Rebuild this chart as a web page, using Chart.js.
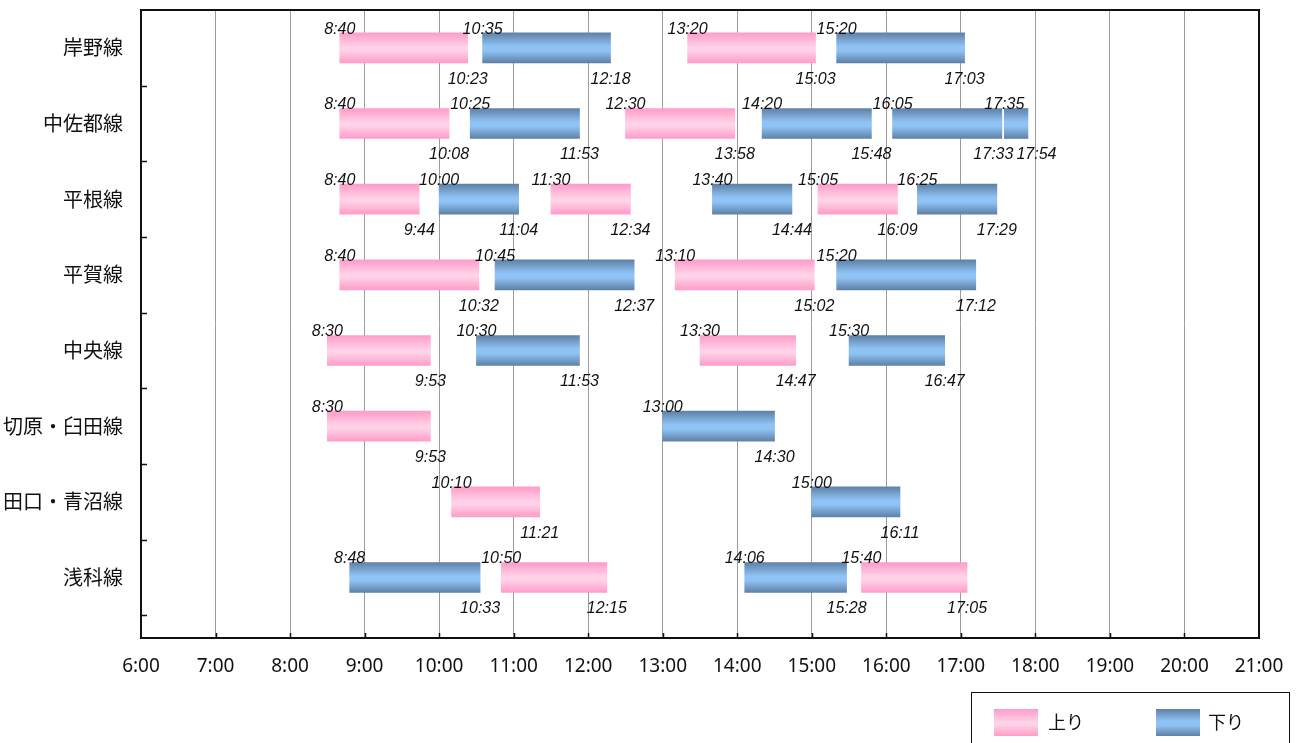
<!DOCTYPE html>
<html>
<head>
<meta charset="utf-8">
<script src="https://cdn.jsdelivr.net/npm/chart.js@4.4.1/dist/chart.umd.min.js"></script>
<style>
  html, body { margin: 0; padding: 0; background: #fff; }
  canvas { display: block; }
</style>
</head>
<body>
<canvas id="c" width="1296" height="743"></canvas>
<script>
// Routes (top to bottom)
const lines = ['岸野線', '中佐都線', '平根線', '平賀線', '中央線', '切原・臼田線', '田口・青沼線', '浅科線'];

// 上り runs per route: [departure, arrival]
const upRuns = [
  [['8:40', '10:23'], ['13:20', '15:03']],
  [['8:40', '10:08'], ['12:30', '13:58']],
  [['8:40', '9:44'], ['11:30', '12:34'], ['15:05', '16:09']],
  [['8:40', '10:32'], ['13:10', '15:02']],
  [['8:30', '9:53'], ['13:30', '14:47']],
  [['8:30', '9:53']],
  [['10:10', '11:21']],
  [['10:50', '12:15'], ['15:40', '17:05']]
];

// 下り runs per route: [departure, arrival]
const downRuns = [
  [['10:35', '12:18'], ['15:20', '17:03']],
  [['10:25', '11:53'], ['14:20', '15:48'], ['16:05', '17:33'], ['17:35', '17:54']],
  [['10:00', '11:04'], ['13:40', '14:44'], ['16:25', '17:29']],
  [['10:45', '12:37'], ['15:20', '17:12']],
  [['10:30', '11:53'], ['15:30', '16:47']],
  [['13:00', '14:30']],
  [['15:00', '16:11']],
  [['8:48', '10:33'], ['14:06', '15:28']]
];

// Hour ticks on the time axis
const hourTicks = [6, 7, 8, 9, 10, 11, 12, 13, 14, 15, 16, 17, 18, 19, 20, 21];

const legendNames = { up: '上り', down: '下り' };

function toHours(t) {
  const [h, m] = t.split(':').map(Number);
  return h + m / 60;
}

function makeGradient(g, y0, y1, dir) {
  const gr = g.createLinearGradient(0, y0, 0, y1);
  if (dir === 'up') {
    gr.addColorStop(0, '#ff9cc9');
    gr.addColorStop(0.5, '#ffd4e9');
    gr.addColorStop(0.6, '#ffd0e6');
    gr.addColorStop(1, '#ff9cc9');
  } else {
    gr.addColorStop(0, '#5f81a6');
    gr.addColorStop(0.45, '#8fc3f6');
    gr.addColorStop(0.6, '#8fc3f6');
    gr.addColorStop(1, '#5f81a6');
  }
  return gr;
}

function barFill(ctx, dir) {
  const chart = ctx.chart;
  const ys = chart.scales && chart.scales.y;
  if (ctx.type !== 'data' || !chart.chartArea || !ys || !ctx.raw) {
    return dir === 'up' ? '#ffb8dc' : '#78a4d2';
  }
  const yc = ys.getPixelForValue(ctx.raw.y);
  return makeGradient(chart.ctx, yc - 15, yc + 15, dir);
}

function buildSets(runs, dir) {
  const n = Math.max(...runs.map(r => r.length));
  const sets = [];
  for (let k = 0; k < n; k++) {
    const data = [];
    runs.forEach((r, i) => {
      if (r[k]) data.push({ x: [toHours(r[k][0]), toHours(r[k][1])], y: i, from: r[k][0], to: r[k][1] });
    });
    sets.push({
      label: legendNames[dir],
      dir: dir,
      data: data,
      grouped: false,
      barThickness: 30,
      borderWidth: 0,
      borderSkipped: false,
      backgroundColor: ctx => barFill(ctx, dir)
    });
  }
  return sets;
}

const datasets = buildSets(upRuns, 'up').concat(buildSets(downRuns, 'down'));

function noPad(s) {
  s.paddingTop = 0;
  s.paddingBottom = 0;
  s.paddingLeft = 0;
  s.paddingRight = 0;
}

// spread labels on one row apart so they do not overlap
function spread(items, g) {
  items.sort((p, q) => p.x - q.x);
  for (let k = 1; k < items.length; k++) {
    const p = items[k - 1], q = items[k];
    const need = (g.measureText(p.text).width + g.measureText(q.text).width) / 2 + 3;
    const gap = q.x - p.x;
    if (gap < need) {
      const shift = (need - gap) / 2;
      p.x -= shift;
      q.x += shift;
    }
  }
}

const decor = {
  id: 'decor',
  afterDatasetsDraw(chart) {
    const g = chart.ctx;
    g.save();
    g.font = 'italic 16px "Liberation Sans", Arial, sans-serif';
    g.fillStyle = '#111';
    g.textAlign = 'center';
    g.textBaseline = 'alphabetic';
    const starts = {}, ends = {};
    chart.data.datasets.forEach((ds, di) => {
      const meta = chart.getDatasetMeta(di);
      meta.data.forEach((el, j) => {
        const d = ds.data[j];
        if (!d) return;
        const a = Math.min(el.x, el.base);
        const b = Math.max(el.x, el.base);
        (starts[d.y] = starts[d.y] || []).push({ text: d.from, x: a, y: el.y - 15 + 1 });
        (ends[d.y] = ends[d.y] || []).push({ text: d.to, x: b, y: el.y + 15 + 21 });
      });
    });
    [starts, ends].forEach(group => {
      Object.values(group).forEach(row => {
        spread(row, g);
        row.forEach(it => g.fillText(it.text, it.x, it.y));
      });
    });
    g.restore();
  },
  afterDraw(chart) {
    const g = chart.ctx;
    const ca = chart.chartArea;
    const xs = chart.scales.x;
    const ys = chart.scales.y;
    g.save();
    // top and right frame
    g.strokeStyle = '#111';
    g.lineWidth = 2;
    g.beginPath();
    g.moveTo(ca.left - 1, ca.top);
    g.lineTo(ca.right, ca.top);
    g.lineTo(ca.right, ca.bottom + 1);
    g.stroke();
    // inward tick marks
    g.lineWidth = 1.5;
    g.beginPath();
    hourTicks.slice(1, -1).forEach(h => {
      const px = Math.round(xs.getPixelForValue(h)) + 0.5;
      g.moveTo(px, ca.bottom);
      g.lineTo(px, ca.bottom - 5);
    });
    lines.forEach((_, i) => {
      const py = Math.round(ys.getPixelForValue(i + 0.5)) + 0.5;
      g.moveTo(ca.left, py);
      g.lineTo(ca.left + 6, py);
    });
    g.stroke();

    // legend
    g.lineWidth = 1;
    g.strokeStyle = '#111';
    g.strokeRect(971.5, 692.5, 318, 70);
    const items = [['up', 994, 1048], ['down', 1156, 1208]];
    g.font = '18px "Noto Sans CJK JP", sans-serif';
    g.textAlign = 'left';
    g.textBaseline = 'middle';
    items.forEach(([dir, sx, tx]) => {
      g.fillStyle = makeGradient(g, 709, 736, dir);
      g.fillRect(sx, 709, 44, 27);
      g.fillStyle = '#111';
      g.fillText(legendNames[dir], tx, 722);
    });
    g.restore();
  }
};

new Chart(document.getElementById('c'), {
  type: 'bar',
  data: { datasets: datasets },
  options: {
    indexAxis: 'y',
    responsive: false,
    animation: false,
    devicePixelRatio: 1,
    layout: { padding: { top: 10, right: 37, left: 0, bottom: 0 } },
    plugins: {
      legend: { display: false },
      title: { display: false },
      tooltip: { enabled: false }
    },
    scales: {
      x: {
        type: 'linear',
        position: 'bottom',
        min: 6,
        max: 21,
        afterBuildTicks: s => { s.ticks = hourTicks.map(v => ({ value: v })); },
        afterFit: s => { s.height = 105; noPad(s); },
        ticks: {
          callback: v => v + ':00',
          font: { family: '"Noto Sans", sans-serif', size: 19 },
          color: '#111',
          padding: 17,
          maxRotation: 0,
          autoSkip: false
        },
        grid: {
          drawTicks: false,
          lineWidth: 1,
          color: c => (c.tick && (c.tick.value === 6 || c.tick.value === 21)) ? 'rgba(0,0,0,0)' : '#9c9c9c'
        },
        border: { color: '#111', width: 2 }
      },
      y: {
        type: 'linear',
        reverse: true,
        offset: false,
        min: -0.5,
        max: 7.8,
        afterBuildTicks: s => { s.ticks = lines.map((_, i) => ({ value: i })); },
        afterFit: s => { s.width = 141; noPad(s); },
        ticks: {
          callback: v => lines[v],
          font: { family: '"Noto Sans CJK JP", sans-serif', size: 20 },
          color: '#111',
          padding: 18,
          autoSkip: false
        },
        grid: { drawOnChartArea: false, drawTicks: false, offset: false },
        border: { color: '#111', width: 2 }
      }
    }
  },
  plugins: [decor]
});
</script>
</body>
</html>
